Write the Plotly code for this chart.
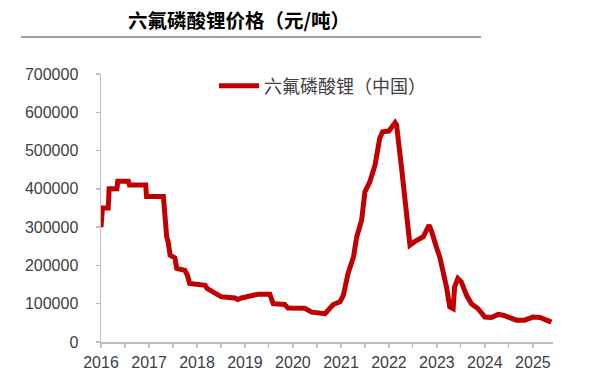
import plotly.graph_objects as go

dates = [
    "2016-01-01", "2016-01-12", "2016-02-25", "2016-03-03", "2016-05-01", "2016-05-08",
    "2016-07-27", "2016-08-04", "2016-12-06", "2016-12-13", "2017-04-20", "2017-05-01",
    "2017-05-15", "2017-05-26", "2017-06-10", "2017-07-16", "2017-07-31", "2017-10-01",
    "2017-10-19", "2017-11-06", "2018-03-04", "2018-03-18", "2018-05-01", "2018-07-06",
    "2018-10-16", "2018-11-07", "2018-12-06", "2019-01-26", "2019-04-13", "2019-07-09",
    "2019-08-04", "2019-10-30", "2019-11-25", "2020-04-01", "2020-05-22", "2020-09-02",
    "2020-09-28", "2020-11-03", "2020-12-24", "2021-01-19", "2021-02-24", "2021-04-06",
    "2021-05-01", "2021-06-07", "2021-07-02", "2021-08-08", "2021-09-17", "2021-10-23",
    "2021-11-14", "2022-01-01", "2022-02-17", "2022-02-28", "2022-04-06", "2022-06-10",
    "2022-07-16", "2022-09-20", "2022-11-03", "2022-11-21", "2022-12-28", "2023-01-23",
    "2023-03-15", "2023-04-09", "2023-05-05", "2023-05-16", "2023-06-10", "2023-07-06",
    "2023-08-15", "2023-09-21", "2023-11-11", "2024-01-01", "2024-02-21", "2024-04-12",
    "2024-05-19", "2024-08-29", "2024-10-30", "2025-01-01", "2025-02-24", "2025-05-22",
]
prices = [
    300000, 350000, 350000, 400000, 400000, 420000,
    420000, 410000, 410000, 380000, 380000, 320000,
    275000, 262000, 227000, 220000, 192000, 187000,
    175000, 153000, 148000, 140000, 131000, 118000,
    115000, 111000, 115000, 120000, 125000, 125000,
    100000, 98000, 89000, 88000, 78000, 74000,
    83000, 98000, 105000, 122000, 179000, 222000,
    275000, 318000, 392000, 418000, 462000, 532000,
    549000, 551000, 573000, 567000, 458000, 253000,
    262000, 275000, 305000, 290000, 248000, 222000,
    144000, 92000, 87000, 144000, 166000, 157000,
    122000, 100000, 87000, 65000, 64000, 72000,
    70000, 57000, 57000, 65000, 64000, 52000,
]
series_name = "六氟磷酸锂（中国）"
title_text = "六氟磷酸锂价格（元/吨）"
x_range = ["2016-01-01", "2025-06-03"]
y_range = [0, 700000]

fig = go.Figure()
fig.add_trace(go.Scatter(
    x=dates, y=prices, mode="lines", name=series_name,
    line=dict(color="#C00000", width=5),
))

axis_gray = "#BFBFBF"
tick_font = dict(family="Liberation Sans, Arial, sans-serif", size=16, color="#404040")

fig.update_layout(
    template="none",
    width=602, height=379,
    margin=dict(l=101, r=49, t=74, b=37, autoexpand=False),
    paper_bgcolor="white", plot_bgcolor="white",
    showlegend=True,
    legend=dict(
        x=0.25, y=0.955, xanchor="left", yanchor="middle",
        bgcolor="rgba(0,0,0,0)",
        font=dict(family="Noto Sans CJK SC", size=18, color="#404040"),
        itemwidth=40,
    ),
    annotations=[dict(
        text="<b>" + title_text + "</b>", xref="paper", yref="paper",
        x=(239 - 101) / 452, y=(341.7 - 20) / 267.7, xanchor="center", yanchor="middle",
        showarrow=False,
        font=dict(family="Noto Sans CJK SC", size=19.5, color="#000000"),
    )],
    shapes=[dict(
        type="line", xref="paper", yref="paper",
        x0=(21 - 101) / 452, x1=(481 - 101) / 452,
        y0=(341.7 - 37) / 267.7, y1=(341.7 - 37) / 267.7,
        line=dict(color="#A0A0A0", width=2),
    )],
)

fig.update_xaxes(
    type="date", range=x_range, dtick="M12", tick0="2016-01-01", tickformat="%Y",
    showgrid=False, zeroline=False, automargin=False,
    showline=True, linecolor=axis_gray, linewidth=1.5,
    ticks="outside", ticklen=4, tickcolor=axis_gray, tickwidth=1.5,
    minor=dict(dtick="M6", tick0="2016-01-01", ticks="outside", ticklen=4,
               tickcolor=axis_gray, tickwidth=1.5, showgrid=False),
    tickfont=tick_font, ticklabelstandoff=1,
)
fig.update_yaxes(
    range=y_range, dtick=100000, tick0=0, tickformat="d",
    showgrid=False, zeroline=False, automargin=False,
    showline=True, linecolor=axis_gray, linewidth=1.5,
    ticks="outside", ticklen=4, tickcolor=axis_gray, tickwidth=1.5,
    tickfont=tick_font, ticklabelstandoff=14,
)

fig.write_html(
    "out.html",
    config={"displayModeBar": False, "staticPlot": True},
    post_script="document.body.style.margin='0px';document.body.style.overflow='hidden';",
)
